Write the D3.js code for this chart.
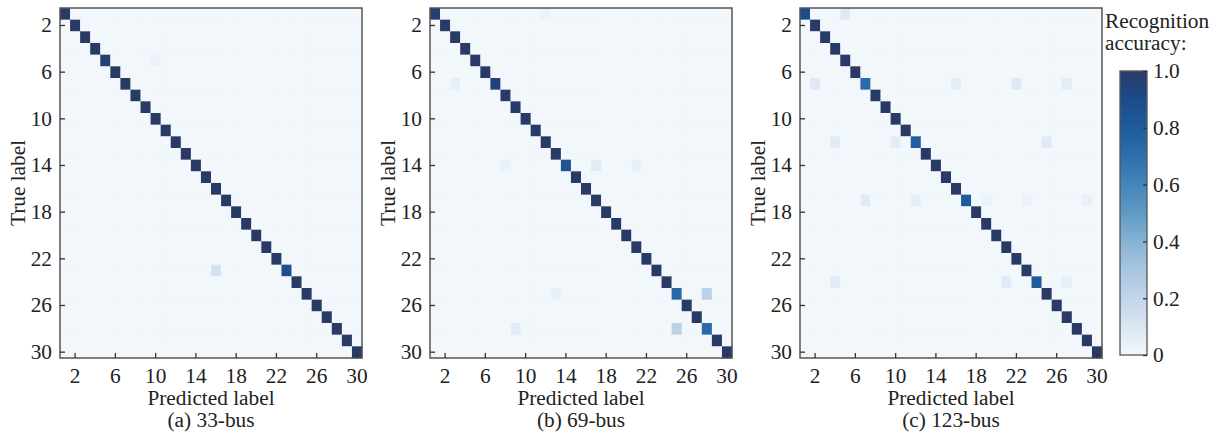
<html>
<meta charset="utf-8" />
<script src="https://d3js.org/d3.v7.min.js"></script>
<style>
  body { margin: 0; background: #fff; }
  text { font-family: "Liberation Serif", "Times New Roman", serif; fill: #222; }
</style>
<body>
<svg id="chart" width="1221" height="437"></svg>
<script>
// class labels 1..30
const labels = [1,2,3,4,5,6,7,8,9,10,11,12,13,14,15,16,17,18,19,20,21,22,23,24,25,26,27,28,29,30];
const tickLabels = [2,6,10,14,18,22,26,30];
const cbarTicks = [0, 0.2, 0.4, 0.6, 0.8, 1.0];

// diagonal accuracy per true label
const diagA = [1,1,1,1,0.97,1,1,1,1,1,1,1,1,1,1,1,1,1,1,1,1,1,0.88,1,1,1,1,1,1,1];
const diagB = [0.97,1,1,1,1,1,0.95,1,1,1,1,1,1,0.85,1,1,1,1,1,1,1,1,1,1,0.73,1,1,0.72,1,1];
const diagC = [0.9,1,1,1,1,1,0.72,1,1,1,1,0.79,1,1,1,1,0.81,1,1,1,1,1,1,0.81,1,1,1,1,1,1];

// off-diagonal misclassifications: [true, predicted, share]
const offA = [[5,10,0.03],[23,16,0.12]];
const offB = [[1,12,0.03],[7,3,0.05],[14,8,0.04],[14,17,0.07],[14,21,0.04],
              [25,13,0.04],[25,28,0.23],[28,9,0.06],[28,25,0.22]];
const offC = [[1,5,0.08],[7,2,0.08],[7,16,0.06],[7,22,0.08],[7,27,0.06],
              [12,4,0.07],[12,10,0.06],[12,25,0.08],
              [17,7,0.07],[17,12,0.05],[17,19,0.03],[17,23,0.03],[17,29,0.04],
              [24,4,0.07],[24,21,0.07],[24,27,0.05]];

const panels = [
  { diag: diagA, off: offA, title: "(a) 33-bus", left: 60 },
  { diag: diagB, off: offB, title: "(b) 69-bus", left: 430 },
  { diag: diagC, off: offC, title: "(c) 123-bus", left: 800 }
];

const color = d3.scaleLinear()
  .domain([0, 0.1, 0.2, 0.3, 0.4, 0.5, 0.6, 0.7, 0.8, 0.9, 1.0])
  .range(["#f2f7fc", "#d9e6f3", "#c3d5ea", "#a7c6e0", "#86b3d4", "#6099c5",
          "#4585b9", "#2e6fac", "#1f5b9d", "#1c4c8a", "#293a66"])
  .clamp(true);

const fontSize = "21.3px";
const svg = d3.select("#chart");
const panelTop = 8, pw = 302, ph = 350;

const x = d3.scaleBand().domain(labels).range([0, pw]);
const y = d3.scaleBand().domain(labels).range([0, ph]);

panels.forEach(function (p) {
  const g = svg.append("g").attr("transform", `translate(${p.left},${panelTop})`);

  // full grid from diagonal + off-diagonal entries
  const cells = [];
  labels.forEach(function (r, i) {
    labels.forEach(function (c) {
      cells.push({ r: r, c: c, v: r === c ? p.diag[i] : 0 });
    });
  });
  p.off.forEach(function (o) {
    cells.find((d) => d.r === o[0] && d.c === o[1]).v = o[2];
  });

  g.selectAll("rect.cell")
    .data(cells)
    .enter()
    .append("rect")
    .attr("class", "cell")
    .attr("x", (d) => x(d.c))
    .attr("y", (d) => y(d.r))
    .attr("width", x.bandwidth() + 0.3)
    .attr("height", y.bandwidth() + 0.3)
    .attr("fill", (d) => color(d.v));

  // frame
  g.append("rect")
    .attr("width", pw).attr("height", ph)
    .attr("fill", "none").attr("stroke", "#555").attr("stroke-width", 1.5);

  const xAxis = g.append("g")
    .attr("transform", `translate(0,${ph})`)
    .call(d3.axisBottom(x).tickValues(tickLabels).tickSizeInner(-5).tickSizeOuter(0).tickPadding(10));
  const yAxis = g.append("g")
    .call(d3.axisLeft(y).tickValues(tickLabels).tickSizeInner(-5).tickSizeOuter(0).tickPadding(8));
  [xAxis, yAxis].forEach(function (a) {
    a.select(".domain").remove();
    a.selectAll(".tick line").attr("stroke", "#333").attr("stroke-width", 1.3);
    a.selectAll(".tick text")
      .style("font-family", "Liberation Serif, serif")
      .style("font-size", fontSize)
      .attr("fill", "#222");
  });

  g.append("text")
    .attr("x", pw / 2).attr("y", 397)
    .attr("text-anchor", "middle")
    .style("font-size", fontSize)
    .text("Predicted label");

  g.append("text")
    .attr("x", pw / 2).attr("y", 419)
    .attr("text-anchor", "middle")
    .style("font-size", fontSize)
    .text(p.title);

  g.append("text")
    .attr("transform", `translate(-35,${ph / 2}) rotate(-90)`)
    .attr("text-anchor", "middle")
    .style("font-size", fontSize)
    .text("True label");
});

// colour bar
const cb = { x: 1120, y: 71, w: 27, h: 284 };
const grad = svg.append("defs").append("linearGradient")
  .attr("id", "cbar").attr("x1", 0).attr("y1", 1).attr("x2", 0).attr("y2", 0);
grad.selectAll("stop")
  .data(color.domain())
  .enter()
  .append("stop")
  .attr("offset", (d) => d)
  .attr("stop-color", (d) => color(d));

const cbScale = d3.scaleLinear().domain([0, 1]).range([cb.y + cb.h, cb.y]);

svg.append("rect")
  .attr("x", cb.x).attr("y", cb.y).attr("width", cb.w).attr("height", cb.h)
  .attr("fill", "url(#cbar)").attr("stroke", "#555").attr("stroke-width", 1.3);

const cbAxis = svg.append("g")
  .attr("transform", `translate(${cb.x + cb.w},0)`)
  .call(d3.axisRight(cbScale).tickValues(cbarTicks)
    .tickFormat((d) => (d === 0 ? "0" : d.toFixed(1)))
    .tickSizeInner(-4).tickSizeOuter(0).tickPadding(6));
cbAxis.select(".domain").remove();
cbAxis.selectAll(".tick line").attr("stroke", "#333").attr("stroke-width", 1.3);
cbAxis.selectAll(".tick text")
  .style("font-family", "Liberation Serif, serif")
  .style("font-size", fontSize)
  .attr("fill", "#222");

svg.append("text").attr("x", 1105).attr("y", 28)
  .style("font-size", fontSize).text("Recognition");
svg.append("text").attr("x", 1105).attr("y", 50)
  .style("font-size", fontSize).text("accuracy:");
</script>
</body>
</html>
